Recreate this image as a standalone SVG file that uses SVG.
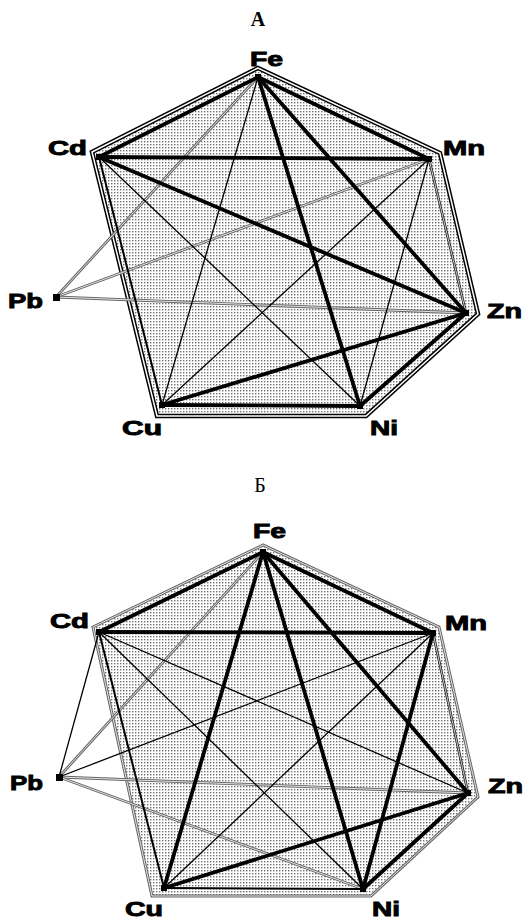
<svg xmlns="http://www.w3.org/2000/svg" width="525" height="921" viewBox="0 0 525 921">
<style>
.lbl{font-family:"Liberation Sans",Arial,sans-serif;font-weight:bold;font-size:20px;fill:#000;stroke:#000;stroke-width:0.9}
.ttl{font-family:"Liberation Serif","Times New Roman",serif;font-size:20px;fill:#000;text-anchor:middle}
.thick{stroke:#000;stroke-width:3.8;fill:none;stroke-linecap:round}
.med{stroke:#000;stroke-width:2;fill:none}
.thin{stroke:#000;stroke-width:1.3;fill:none}
.dbl{stroke:#222;stroke-width:2.6;fill:none}
.dbli{stroke:#ddd;stroke-width:0.9;fill:none}
.gdbl{stroke:#666;stroke-width:2.8;fill:none}
.gdbli{stroke:#e4e4e4;stroke-width:1;fill:none}
.node{fill:#000}
</style>
<defs>
<pattern id="dots" width="3" height="3" patternUnits="userSpaceOnUse">
<rect width="3" height="3" fill="#fff"/>
<rect width="1.4" height="1.4" fill="#707070"/>
</pattern>
</defs>
<rect width="525" height="921" fill="#fff"/>

<!-- Panel A -->
<g id="panelA">
<text class="ttl" x="258" y="26" font-weight="bold">A</text>
<g id="hullA">
<polygon points="258,68 92,152 157,416 366,416 478,314 440,153" fill="url(#dots)" stroke="#000" stroke-width="4.5" stroke-linejoin="miter"/>
<polygon points="258,68 92,152 157,416 366,416 478,314 440,153" fill="none" stroke="#fff" stroke-width="1.5"/>
</g>
<g id="connectorsA">
<line class="gdbl" x1="56" y1="297" x2="258" y2="77"/><line class="gdbli" x1="56" y1="297" x2="258" y2="77"/>
<line class="gdbl" x1="56" y1="297" x2="429" y2="159"/><line class="gdbli" x1="56" y1="297" x2="429" y2="159"/>
<line class="gdbl" x1="56" y1="297" x2="466" y2="313"/><line class="gdbli" x1="56" y1="297" x2="466" y2="313"/>
<line class="thin" x1="258" y1="77" x2="162" y2="405"/>
<line class="thin" x1="99" y1="157" x2="360" y2="406"/>
<line class="thin" x1="429" y1="159" x2="162" y2="405"/>
<line class="thin" x1="429" y1="159" x2="360" y2="406"/>
<line class="dbl" x1="429" y1="159" x2="466" y2="313"/><line class="dbli" x1="429" y1="159" x2="466" y2="313"/>
<line class="med" x1="99" y1="157" x2="162" y2="405"/>
<line class="thick" x1="258" y1="77" x2="99" y2="157"/>
<line class="thick" x1="258" y1="77" x2="429" y2="159"/>
<line class="thick" x1="99" y1="157" x2="429" y2="159"/>
<line class="thick" x1="99" y1="157" x2="466" y2="313"/>
<line class="thick" x1="258" y1="77" x2="466" y2="313"/>
<line class="thick" x1="258" y1="77" x2="360" y2="406"/>
<line class="thick" x1="162" y1="405" x2="466" y2="313"/>
<line class="thick" x1="162" y1="405" x2="360" y2="406"/>
<line class="thick" x1="360" y1="406" x2="466" y2="313"/>
</g>
<g id="A-Fe"><rect class="node" x="255" y="74" width="6" height="6"/><text class="lbl" x="250" y="66" textLength="33" lengthAdjust="spacingAndGlyphs">Fe</text></g>
<g id="A-Cd"><rect class="node" x="96" y="154" width="6" height="6"/><text class="lbl" x="48" y="155" textLength="39" lengthAdjust="spacingAndGlyphs">Cd</text></g>
<g id="A-Mn"><rect class="node" x="426" y="156" width="6" height="6"/><text class="lbl" x="443" y="155" textLength="42" lengthAdjust="spacingAndGlyphs">Mn</text></g>
<g id="A-Zn"><rect class="node" x="463" y="310" width="6" height="6"/><text class="lbl" x="487" y="318" textLength="35" lengthAdjust="spacingAndGlyphs">Zn</text></g>
<g id="A-Ni"><rect class="node" x="357" y="403" width="6" height="6"/><text class="lbl" x="370" y="435" textLength="28" lengthAdjust="spacingAndGlyphs">Ni</text></g>
<g id="A-Cu"><rect class="node" x="159" y="402" width="6" height="6"/><text class="lbl" x="122" y="435" textLength="40" lengthAdjust="spacingAndGlyphs">Cu</text></g>
<g id="A-Pb"><rect class="node" x="53" y="294" width="7" height="7"/><text class="lbl" x="8" y="308" textLength="35" lengthAdjust="spacingAndGlyphs">Pb</text></g>
</g>

<!-- Panel B -->
<g id="panelB">
<text class="ttl" x="260" y="492">Б</text>
<g id="hullB">
<polygon points="263,545 93,627 152,896 371,896 478,797 439,627" fill="url(#dots)" stroke="#666" stroke-width="3"/>
<polygon points="263,545 93,627 152,896 371,896 478,797 439,627" fill="none" stroke="#e4e4e4" stroke-width="1"/>
</g>
<g id="connectorsB">
<line class="gdbl" x1="59" y1="777" x2="263" y2="552"/><line class="gdbli" x1="59" y1="777" x2="263" y2="552"/>
<line class="gdbl" x1="59" y1="777" x2="468" y2="793"/><line class="gdbli" x1="59" y1="777" x2="468" y2="793"/>
<line class="gdbl" x1="59" y1="777" x2="363" y2="889"/><line class="gdbli" x1="59" y1="777" x2="363" y2="889"/>
<line class="thin" x1="59" y1="777" x2="99" y2="632" stroke-width="1.6"/>
<line class="thin" x1="59" y1="777" x2="433" y2="633" stroke-width="1.6"/>
<line class="thin" x1="99" y1="632" x2="468" y2="793" stroke-width="1.6"/>
<line class="thin" x1="99" y1="632" x2="363" y2="889" stroke-width="1.6"/>
<line class="thin" x1="433" y1="633" x2="164" y2="888" stroke-width="1.6"/>
<line class="dbl" x1="433" y1="633" x2="468" y2="793" stroke-width="2"/><line class="dbli" x1="433" y1="633" x2="468" y2="793"/>
<line class="med" x1="99" y1="632" x2="164" y2="888" stroke-width="2.2"/>
<line class="med" x1="164" y1="888" x2="363" y2="889" stroke-width="2.6"/>
<line class="thick" x1="263" y1="552" x2="99" y2="632"/>
<line class="thick" x1="263" y1="552" x2="433" y2="633"/>
<line class="thick" x1="99" y1="632" x2="433" y2="633"/>
<line class="thick" x1="263" y1="552" x2="164" y2="888"/>
<line class="thick" x1="263" y1="552" x2="363" y2="889"/>
<line class="thick" x1="263" y1="552" x2="468" y2="793"/>
<line class="thick" x1="433" y1="633" x2="363" y2="889"/>
<line class="thick" x1="164" y1="888" x2="468" y2="793"/>
<line class="thick" x1="363" y1="889" x2="468" y2="793"/>
</g>
<g id="B-Fe"><rect class="node" x="260" y="549" width="6" height="6"/><text class="lbl" x="253" y="538" textLength="33" lengthAdjust="spacingAndGlyphs">Fe</text></g>
<g id="B-Cd"><rect class="node" x="96" y="629" width="6" height="6"/><text class="lbl" x="50" y="628" textLength="39" lengthAdjust="spacingAndGlyphs">Cd</text></g>
<g id="B-Mn"><rect class="node" x="430" y="630" width="6" height="6"/><text class="lbl" x="445" y="630" textLength="42" lengthAdjust="spacingAndGlyphs">Mn</text></g>
<g id="B-Zn"><rect class="node" x="465" y="790" width="6" height="6"/><text class="lbl" x="488" y="793" textLength="35" lengthAdjust="spacingAndGlyphs">Zn</text></g>
<g id="B-Ni"><rect class="node" x="360" y="886" width="6" height="6"/><text class="lbl" x="372" y="916" textLength="28" lengthAdjust="spacingAndGlyphs">Ni</text></g>
<g id="B-Cu"><rect class="node" x="161" y="885" width="6" height="6"/><text class="lbl" x="125" y="916" textLength="38" lengthAdjust="spacingAndGlyphs">Cu</text></g>
<g id="B-Pb"><rect class="node" x="56" y="774" width="7" height="7"/><text class="lbl" x="10" y="790" textLength="33" lengthAdjust="spacingAndGlyphs">Pb</text></g>
</g>
</svg>
